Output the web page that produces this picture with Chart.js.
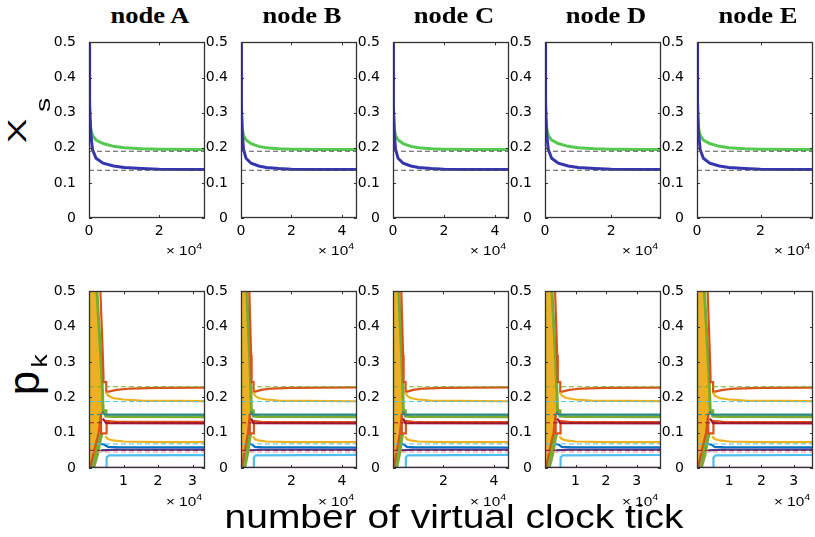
<!DOCTYPE html>
<html><head><meta charset="utf-8">
<script src="https://cdn.jsdelivr.net/npm/chart.js@4"></script>
<style>
html,body{margin:0;padding:0;background:#fff;}
#wrap{position:relative;width:815px;height:537px;overflow:hidden;background:#fff;}
canvas{position:absolute;}
.t{position:absolute;white-space:nowrap;color:#000;transform-origin:center center;line-height:1;}
</style></head><body><div id="wrap"></div>
<script>
// ---------- DATA ----------
const nodeNames = ['node A', 'node B', 'node C', 'node D', 'node E'];
const topXMax   = [33000, 46000, 45500, 35000, 36500];
const botXMax   = [33600, 46000, 46000, 38000, 36000];
const topXTicks = [[0, 20000], [0, 20000, 40000], [0, 20000, 40000], [0, 20000], [0, 20000]];
const botXTicks = [[10000, 20000, 30000], [20000, 40000], [20000, 40000], [10000, 20000, 30000], [10000, 20000, 30000]];
const yTicks    = [0, 0.1, 0.2, 0.3, 0.4, 0.5];

// top row: x_s
const xsGreen = [[0,0.33],[200,0.29],[500,0.255],[1000,0.235],[2000,0.222],[4000,0.212],[7000,0.204],[10000,0.2],[15000,0.197],[20000,0.196],[30000,0.195],[46000,0.195]];
const xsBlue  = [[0,0.5],[100,0.42],[250,0.32],[500,0.24],[1000,0.195],[2000,0.17],[4000,0.156],[7000,0.148],[10000,0.144],[15000,0.141],[20000,0.139],[30000,0.138],[46000,0.138]];
const xsRefs  = [0.19, 0.136];

// bottom row: p_k
const pkYellowEdge = [[0,0.5],[2200,0.5],[2900,0.38],[3500,0.27],[3900,0.2],[4000,0.155]];
const pkYellowBase = [[0,0],[900,0],[2200,0.05],[3200,0.11],[4000,0.155]];
const pkOrangeTop  = [[3300,0.5],[3700,0.4],[4000,0.32],[4200,0.26],[4200,0.243],[5000,0.243],[5000,0.215],[6000,0.217],[8000,0.221],[12000,0.225],[20000,0.227],[46000,0.228]];
const pkYellowHi   = [[5000,0.215],[5500,0.205],[7000,0.198],[10000,0.194],[15000,0.191],[25000,0.19],[46000,0.189]];
const pkGreenTop   = [[2300,0.5],[2900,0.4],[3500,0.3],[3900,0.22],[4100,0.162],[4900,0.162],[4900,0.147],[7000,0.146],[46000,0.145]];
const pkGreenLow   = [[1000,0],[2200,0.04],[3000,0.08],[3500,0.1]];
const pkTeal       = [[3800,0.16],[4500,0.152],[46000,0.151]];
const pkRed        = [[300,0],[1500,0.05],[2800,0.1],[3500,0.155],[3500,0.098],[5100,0.098],[5100,0.133],[8000,0.131],[46000,0.13]];
const pkDarkRed    = [[4000,0.14],[5000,0.127],[46000,0.126]];
const pkYellowLo   = [[4700,0.09],[5500,0.082],[7000,0.078],[10000,0.075],[20000,0.073],[46000,0.073]];
const pkBlue       = [[3500,0.068],[4500,0.066],[5500,0.06],[8000,0.059],[46000,0.058]];
const pkIndigo     = [[3500,0.05],[8000,0.052],[46000,0.052]];
const pkCyan       = [[5100,0],[5100,0.03],[5800,0.036],[46000,0.037]];
const pkPurple     = [[0,0.001],[46000,0.001]];
const pkRefs       = [0.23, 0.188, 0.151, 0.128, 0.068, 0.05, 0.045];
const pkRefColors  = ['#77AC30', '#4DBEEE', '#2a8a8a', '#A2142F', '#4DBEEE', '#A2142F', '#e39a9a'];

// ---------- LAYOUT ----------
const plotLeft = [89, 241, 393, 545, 697];
const PW = 116;
const topRow = {top: 41, h: 177};
const botRow = {top: 290, h: 178};
const YW = 40, PT = 12, PR = 8, XH = 34;

const wrap = document.getElementById('wrap');
const pts = a => a.map(p => ({x: p[0], y: p[1]}));

const boxPlugin = {
  id: 'boxTicks',
  afterDatasetsDraw(chart) {
    const {ctx, chartArea: a, scales} = chart;
    const x = scales.x, y = scales.y, L = 3;
    ctx.save();
    ctx.strokeStyle = '#333'; ctx.lineWidth = 1;
    ctx.beginPath();
    x.ticks.forEach(t => {
      const px = Math.round(x.getPixelForValue(t.value)) + 0.5;
      ctx.moveTo(px, a.bottom); ctx.lineTo(px, a.bottom - L);
      ctx.moveTo(px, a.top); ctx.lineTo(px, a.top + L);
    });
    y.ticks.forEach(t => {
      const py = Math.round(y.getPixelForValue(t.value)) + 0.5;
      ctx.moveTo(a.left, py); ctx.lineTo(a.left + L, py);
      ctx.moveTo(a.right, py); ctx.lineTo(a.right - L, py);
    });
    ctx.stroke();
    ctx.lineWidth = 1.3;
    ctx.strokeRect(Math.round(a.left) + 0.5, Math.round(a.top) + 0.5, Math.round(a.right - a.left) - 1, Math.round(a.bottom - a.top) - 1);
    ctx.restore();
  }
};

function makePanel(left, top, w, h, xmax, xticks, datasets) {
  const c = document.createElement('canvas');
  const W = YW + w + PR, H = PT + h + XH;
  c.width = W; c.height = H;
  c.style.left = (left - YW) + 'px'; c.style.top = (top - PT) + 'px';
  c.style.width = W + 'px'; c.style.height = H + 'px';
  wrap.appendChild(c);
  const tickFont = {family: 'DejaVu Sans', size: 14};
  new Chart(c, {
    type: 'line',
    data: {datasets},
    options: {
      responsive: false, animation: false, devicePixelRatio: 1,
      layout: {padding: {top: PT, right: PR, left: 0, bottom: 0}},
      plugins: {legend: {display: false}, tooltip: {enabled: false}},
      elements: {point: {radius: 0}, line: {tension: 0}},
      scales: {
        x: {
          type: 'linear', min: 0, max: xmax,
          afterFit: s => { s.height = XH; },
          afterBuildTicks: s => { s.ticks = xticks.map(v => ({value: v})); },
          grid: {display: false}, border: {display: false},
          ticks: {autoSkip: false, maxRotation: 0, color: '#000', font: tickFont, padding: -3,
                  callback: v => String(Math.round(v / 1000) / 10)}
        },
        y: {
          type: 'linear', min: 0, max: 0.5,
          afterFit: s => { s.width = YW; },
          afterBuildTicks: s => { s.ticks = yTicks.map(v => ({value: v})); },
          grid: {display: false}, border: {display: false},
          ticks: {color: '#000', font: tickFont, padding: 5, autoSkip: false,
                  callback: v => String(Math.round(v * 10) / 10)}
        }
      }
    },
    plugins: [boxPlugin]
  });
}

function line(data, color, width, order, extra) {
  return Object.assign({data: pts(data), borderColor: color, borderWidth: width, fill: false, order: order, pointRadius: 0}, extra || {});
}
function ref(v, xmax, color, width) {
  return {data: pts([[0, v], [xmax, v]]), borderColor: color, borderWidth: width, borderDash: [5, 3], fill: false, order: 0, pointRadius: 0};
}

for (let i = 0; i < 5; i++) {
  const tds = [
    line(xsBlue, '#3535b0', 3, 1),
    line(xsGreen, '#55c950', 3, 2)
  ];
  xsRefs.forEach(v => tds.push(ref(v, topXMax[i], '#555', 1.2)));
  makePanel(plotLeft[i], topRow.top, PW, topRow.h, topXMax[i], topXTicks[i], tds);

  const bds = [
    line(pkYellowEdge, '#EDB120', 1, 5, {fill: '+1', backgroundColor: '#EDB120'}),
    line(pkYellowBase, 'rgba(0,0,0,0)', 0, 5),
    line(pkPurple, '#7E2F8E', 2, 1),
    line(pkCyan, '#4DBEEE', 2.2, 1),
    line(pkIndigo, '#3c3c9c', 2.2, 1),
    line(pkBlue, '#0072BD', 2.2, 1),
    line(pkYellowLo, '#EDB120', 2.2, 1),
    line(pkDarkRed, '#A2142F', 2.2, 1),
    line(pkRed, '#D95319', 2.2, 1),
    line(pkTeal, '#2a8a8a', 2.2, 1),
    line(pkGreenLow, '#77AC30', 5, 2),
    line(pkGreenTop, '#77AC30', 3, 2),
    line(pkYellowHi, '#EDB120', 2.2, 1),
    line(pkOrangeTop, '#D95319', 2.2, 1)
  ];
  pkRefs.forEach((v, k) => bds.push(ref(v, botXMax[i], pkRefColors[k], 1)));
  makePanel(plotLeft[i], botRow.top, PW, botRow.h, botXMax[i], botXTicks[i], bds);
}

// ---------- TEXT ----------
function addText(html, cx, cy, style, tf) {
  const d = document.createElement('div');
  d.className = 't'; d.innerHTML = html;
  Object.assign(d.style, style);
  d.style.left = cx + 'px'; d.style.top = cy + 'px';
  d.style.transform = 'translate(-50%,-50%) ' + (tf || '');
  wrap.appendChild(d);
}
const sans = '"Liberation Sans", Arial, sans-serif';
for (let i = 0; i < 5; i++) {
  addText(nodeNames[i], plotLeft[i] + PW / 2 + 3, 16, {fontFamily: '"Liberation Serif", "Times New Roman", serif', fontWeight: 'bold', fontSize: '22.5px'}, 'scaleX(1.18)');
  const exp = '× 10<sup style="font-size:9px;vertical-align:6px">4</sup>';
  addText(exp, plotLeft[i] + PW - 21, 249, {fontFamily: sans, fontSize: '13px'}, 'scaleX(1.18)');
  addText(exp, plotLeft[i] + PW - 21, 500, {fontFamily: sans, fontSize: '13px'}, 'scaleX(1.18)');
}
addText('X', 17, 131, {fontFamily: sans, fontSize: '25px'}, 'rotate(-90deg) scaleX(1.45)');
addText('s', 42, 105, {fontFamily: sans, fontSize: '21px'}, 'rotate(-90deg) scaleX(1.35)');
addText('p', 24, 383, {fontFamily: sans, fontSize: '44px'}, 'rotate(-90deg)');
addText('k', 40, 361, {fontFamily: sans, fontSize: '22px'}, 'rotate(-90deg) scaleX(1.2)');
addText('number of virtual clock tick', 454, 516, {fontFamily: sans, fontSize: '33px'}, 'scaleX(1.18)');
</script>
</body></html>
